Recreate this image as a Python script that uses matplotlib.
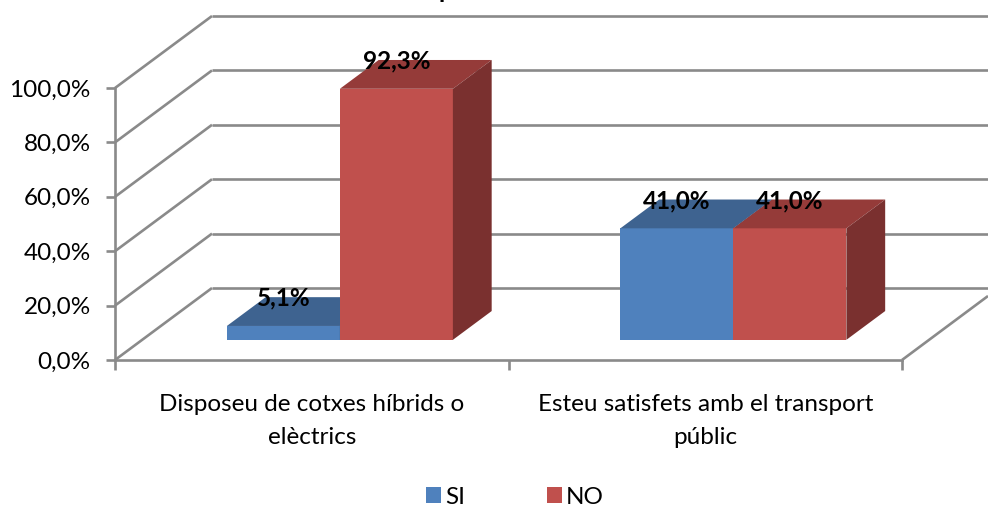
import matplotlib.pyplot as plt
from matplotlib.patches import Polygon

plt.rcParams['font.family'] = ['Lato', 'DejaVu Sans']

categories = ['Disposeu de cotxes híbrids o\nelèctrics', 'Esteu satisfets amb el transport\npúblic']
si_values = [5.1, 41.0]
no_values = [92.3, 41.0]
series_names = ['SI', 'NO']
y_ticks = [0, 20, 40, 60, 80, 100]
y_tick_labels = ['0,0%', '20,0%', '40,0%', '60,0%', '80,0%', '100,0%']

W, H = 988, 505
FS = 17.5
GRID = '#8A8A8A'
LW = 1.9
BLUE = ('#4F81BD', '#3E6390', '#335279')
RED = ('#C0504D', '#953B39', '#7A302F')

fig = plt.figure(figsize=(W / 100, H / 100), dpi=100)
ax = fig.add_axes([115 / W, 1 - 360 / H, (902 - 115) / W, (360 - 88) / H])
ax.set_xlim(0, 2)
ax.set_ylim(0, 100)
ax.patch.set_alpha(0)

# oblique depth of the chart box, in data units
dx = 97 / 393.5
dy = 72 / 2.72
x_edge = (988 - 115) / 393.5
bar_w = 113 / 393.5


def line(xs, ys, z=1):
    ax.plot(xs, ys, color=GRID, lw=LW, clip_on=False, zorder=z, solid_capstyle='butt')


for t in y_ticks:
    line([0, dx], [t, t + dy])
    line([dx, x_edge], [t + dy, t + dy])
line([2, x_edge], [0, (360 - 296) / 2.72])


def bar3d(x0, val, cols):
    # front face sits a bit inside the floor, box runs back 40% of the depth
    fx = 0.29 * dx
    fy = 0.28 * dy
    bx = 0.40 * dx
    by = 0.40 * dy
    l, r = x0 + fx, x0 + fx + bar_w
    ax.add_patch(Polygon([(l, fy), (r, fy), (r, fy + val), (l, fy + val)], fc=cols[0], ec='none', zorder=3, clip_on=False))
    ax.add_patch(Polygon([(l, fy + val), (r, fy + val), (r + bx, fy + val + by), (l + bx, fy + val + by)], fc=cols[1], ec='none', zorder=3, clip_on=False))
    ax.add_patch(Polygon([(r, fy), (r + bx, fy + by), (r + bx, fy + val + by), (r, fy + val)], fc=cols[2], ec='none', zorder=3, clip_on=False))
    ax.text(l + bar_w / 2, fy + val + 10.2, f'{val:.1f}%'.replace('.', ','),
            ha='center', va='center', fontsize=FS, fontweight='bold', color='black', zorder=5, clip_on=False)


for i in range(2):
    bar3d(i + 0.5 - bar_w, si_values[i], BLUE)
    bar3d(i + 0.5, no_values[i], RED)

for s in ['top', 'right']:
    ax.spines[s].set_visible(False)
for s in ['left', 'bottom']:
    ax.spines[s].set_color(GRID)
    ax.spines[s].set_linewidth(LW)
    ax.spines[s].set_zorder(2)

ax.set_yticks(y_ticks)
ax.set_yticklabels(y_tick_labels, fontsize=FS)
ax.set_xticks([0, 1, 2])
ax.set_xticklabels([])
ax.set_xticks([0.5, 1.5], minor=True)
ax.set_xticklabels(categories, minor=True, fontsize=FS, linespacing=1.68, multialignment='center')
ax.tick_params(axis='x', which='major', length=7, width=LW, color=GRID)
ax.tick_params(axis='x', which='minor', length=0, pad=24.5)
ax.tick_params(axis='y', length=6.5, width=LW, color=GRID, pad=11)

handles = [plt.Rectangle((0, 0), 1, 1, fc=BLUE[0]), plt.Rectangle((0, 0), 1, 1, fc=RED[0])]
fig.legend(handles, series_names, loc='center', bbox_to_anchor=(515 / W, 1 - 497 / H), ncol=2, frameon=False,
           fontsize=FS, handlelength=0.62, handleheight=0.62, handletextpad=0.15, columnspacing=3.4,
           borderpad=0, borderaxespad=0)

# title is cut off by the top edge, only the descender shows
fig.text(446 / W, 1 + 2 / H, 'p', ha='center', va='baseline', fontsize=18, fontweight='bold')

fig.savefig('out.png', dpi=100)
